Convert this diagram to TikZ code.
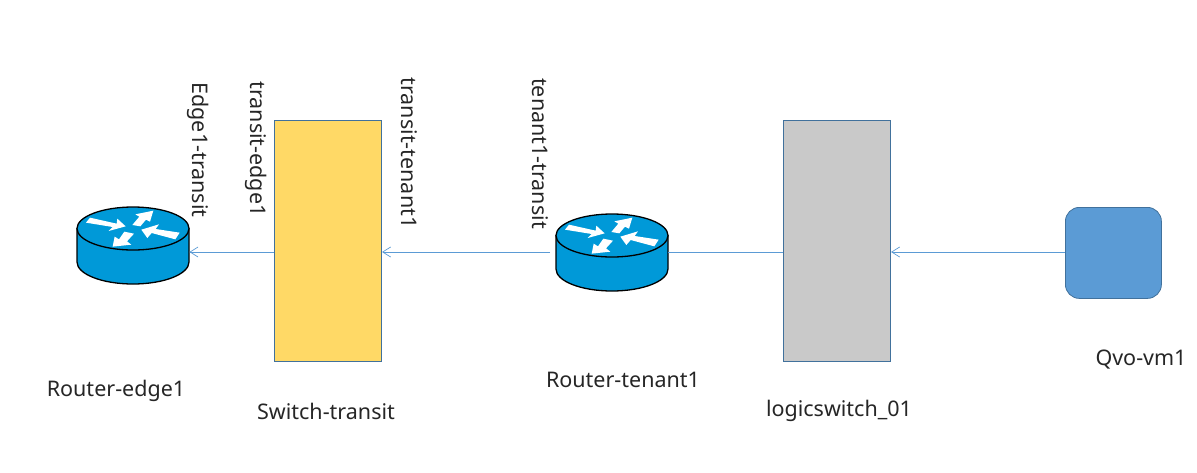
\documentclass[tikz,border=0pt]{standalone}
\usepackage{fontspec}
\setmainfont{Noto Sans}
\usetikzlibrary{arrows.meta}
\definecolor{linkblue}{HTML}{5B9BD5}
\definecolor{edgeblue}{HTML}{41719C}
\definecolor{switchyellow}{HTML}{FFD966}
\definecolor{switchgrey}{HTML}{C9C9C9}
\definecolor{routerblue}{HTML}{0099D8}
\tikzset{
  switchbox/.style={draw=edgeblue,line width=1pt,minimum width=107pt,minimum height=241pt,inner sep=0pt,anchor=north west},
  vmbox/.style={draw=edgeblue,fill=linkblue,line width=0.8pt,rounded corners=14pt,minimum width=96pt,minimum height=91pt,inner sep=0pt,anchor=north west},
  routerbox/.style={minimum width=112pt,minimum height=77pt,inner sep=0pt,anchor=north west},
  link/.style={draw=linkblue,line width=0.9pt},
  linkarrow/.style={link,-{Straight Barb[length=8pt,width=10pt,line width=0.7pt]}},
  label/.style={font=\fontsize{21.5}{24}\selectfont,text=black!85,inner sep=0pt},
  sidelabel/.style={label,rotate=-90}
}
\newcommand{\routerglyph}[2]{%
  \begin{scope}[shift={(#1,#2)}]
    \fill[routerblue,draw=black,line width=1.3pt] (0,21.5) -- (0,55) arc[start angle=180,end angle=0,x radius=56,y radius=22] -- (112,21.5) -- cycle;
    \draw[black,line width=1.3pt,fill=routerblue] (56,21.5) ellipse[x radius=56,y radius=21.5];
    \begin{scope}[x=0.3333pt,y=-0.3333pt,shift={(-51,-50)}]
      \fill[white] (78,97) -- (90,82) -- (170,100) -- (172,85) -- (197,108) -- (146,122) -- (158,110) -- cycle;
      \fill[white] (217,104) -- (241,108) -- (258,88) -- (270,94) -- (280,61) -- (226,72) -- (238,79) -- cycle;
      \fill[white] (244,118) -- (297,102) -- (287,116) -- (359,127) -- (346,147) -- (275,128) -- (262,143) -- cycle;
      \fill[white] (158,169) -- (214,163) -- (201,153) -- (222,130) -- (193,124) -- (177,147) -- (164,139) -- cycle;
    \end{scope}
  \end{scope}%
}
\begin{document}
\begin{tikzpicture}[x=1pt,y=-1pt]
  \useasboundingbox (0,0) rectangle (1197,472);
  \fill[white] (0,0) rectangle (1197,472);

  \routerglyph{77}{207}
  \routerglyph{556}{214}
  \node[routerbox] (r1) at (77,207) {};
  \node[routerbox] (r2) at (556,214) {};
  \node[switchbox,fill=switchyellow] (sw) at (274,120) {};
  \node[switchbox,fill=switchgrey] (ls) at (783,120) {};
  \node[vmbox] (vm) at (1065,207) {};
  \coordinate (lv) at (0,252);
  \coordinate (r2w) at (550,252);

  \draw[linkarrow] (sw.west |- lv) -- (r1.east |- lv);
  \draw[linkarrow] (r2w) -- (sw.east |- lv);
  \draw[link] (r2.east |- lv) -- (ls.west |- lv);
  \draw[linkarrow] (vm.west |- lv) -- (ls.east |- lv);

  \node[sidelabel] (l1) at (198,150) {Edge1-transit};
  \node[sidelabel] (l2) at (256,149) {transit-edge1};
  \node[sidelabel] (l3) at (409,153) {transit-tenant1};
  \node[sidelabel] (l4) at (540,153.5) {tenant1-transit};
  \node[label] (n1) at (116,391) {Router-edge1};
  \node[label] (n2) at (326,411) {Switch-transit};
  \node[label] (n3) at (623,380) {Router-tenant1};
  \node[label] (n4) at (839,411) {logicswitch\_01};
  \node[label] (n5) at (1141,360) {Qvo-vm1};
\end{tikzpicture}
\end{document}
